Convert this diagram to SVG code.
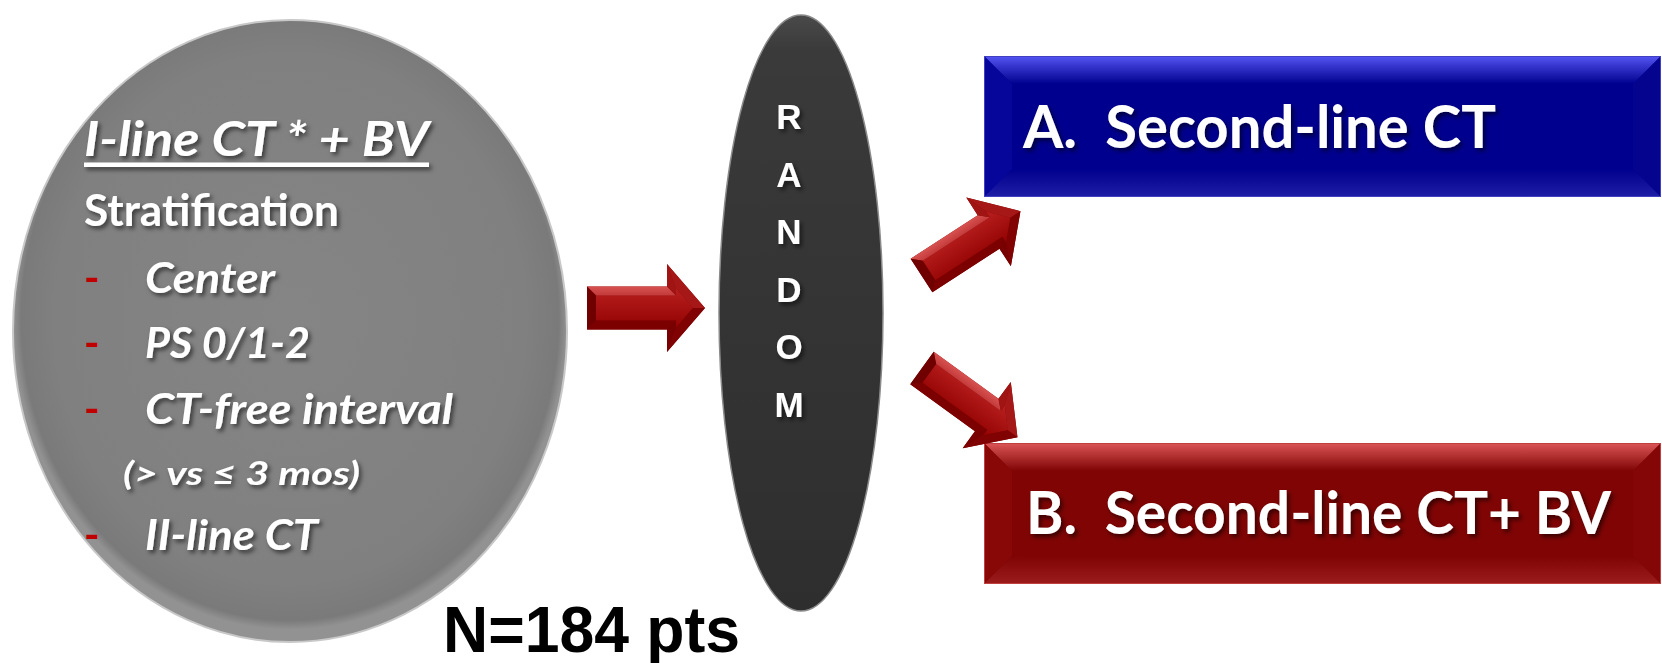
<svg xmlns="http://www.w3.org/2000/svg" width="1662" height="663" viewBox="0 0 1662 663">
  <style>
    .hum { font-family: Lato, "Open Sans", "Liberation Sans", sans-serif; font-weight: 700; fill: #ffffff; }
    .it { font-style: italic; }
    .dash { font-family: Lato, "Liberation Sans", sans-serif; font-weight: 700; fill: #c00000; font-size: 42px; }
    .letter { font-family: "Liberation Sans", Arial, sans-serif; font-weight: 700; font-size: 35px; fill: #ffffff; text-anchor: middle; }
    .count { font-family: "Liberation Sans", Arial, sans-serif; font-weight: 700; font-size: 64px; fill: #000000; }
    .box-label { font-size: 59px; }
  </style>
  <defs>
    <filter id="shadow" x="-10%" y="-30%" width="130%" height="170%">
      <feDropShadow dx="2.5" dy="3" stdDeviation="2" flood-color="#000000" flood-opacity="0.55"/>
    </filter>
    <radialGradient id="grayFill" cx="50%" cy="48%" r="50%">
      <stop offset="0" stop-color="#858585"/>
      <stop offset="0.85" stop-color="#808080"/>
      <stop offset="0.97" stop-color="#7a7a7a"/>
      <stop offset="1" stop-color="#929292"/>
    </radialGradient>
    <linearGradient id="darkFill" x1="0" y1="0" x2="0" y2="1">
      <stop offset="0" stop-color="#4a4a4a"/>
      <stop offset="0.06" stop-color="#3a3a3a"/>
      <stop offset="0.5" stop-color="#343434"/>
      <stop offset="1" stop-color="#2e2e2e"/>
    </linearGradient>
    <linearGradient id="arrowFace" x1="0" y1="0" x2="0" y2="1">
      <stop offset="0" stop-color="#b8201f"/>
      <stop offset="1" stop-color="#930202"/>
    </linearGradient>
    <linearGradient id="arrowTop" x1="0" y1="0" x2="0" y2="1">
      <stop offset="0" stop-color="#d85252"/>
      <stop offset="1" stop-color="#c33a3a"/>
    </linearGradient>
    <linearGradient id="blueTop" x1="0" y1="0" x2="0" y2="1">
      <stop offset="0" stop-color="#5454f2"/>
      <stop offset="1" stop-color="#00008e"/>
    </linearGradient>
    <linearGradient id="blueBottom" x1="0" y1="0" x2="0" y2="1">
      <stop offset="0" stop-color="#00008e"/>
      <stop offset="1" stop-color="#1e1ea6"/>
    </linearGradient>
    <linearGradient id="redTop" x1="0" y1="0" x2="0" y2="1">
      <stop offset="0" stop-color="#dc5656"/>
      <stop offset="1" stop-color="#800404"/>
    </linearGradient>
    <linearGradient id="redBottom" x1="0" y1="0" x2="0" y2="1">
      <stop offset="0" stop-color="#800404"/>
      <stop offset="1" stop-color="#9c1c1c"/>
    </linearGradient>
    <!-- bevelled block arrow, pointing along +x, tail centred on the origin -->
    <g id="arrow">
      <polygon points="0,-21.5 80,-21.5 80,-44 118,0 80,44 80,21.5 0,21.5" fill="#8a0606"/>
      <polygon points="9,-12.5 89,-12.5 89,-19.8 106,0 89,19.8 89,12.5 9,12.5" fill="url(#arrowFace)"/>
      <polygon points="0,-21.5 80,-21.5 89,-12.5 9,-12.5" fill="url(#arrowTop)"/>
      <polygon points="0,21.5 80,21.5 89,12.5 9,12.5" fill="#7c0000"/>
      <polygon points="0,-21.5 9,-12.5 9,12.5 0,21.5" fill="#700000"/>
      <polygon points="80,-21.5 80,-44 89,-19.8 89,-12.5" fill="#a01414"/>
      <polygon points="80,21.5 80,44 89,19.8 89,12.5" fill="#780000"/>
      <polygon points="80,-44 118,0 106,0 89,-19.8" fill="#a61818"/>
      <polygon points="80,44 118,0 106,0 89,19.8" fill="#800202"/>
    </g>
  </defs>

  <rect width="1662" height="663" fill="#ffffff"/>

  <!-- enrolment / stratification disc -->
  <g id="node-stratification">
    <ellipse cx="290" cy="331" rx="277" ry="311" fill="url(#grayFill)" stroke="#c8c8c8" stroke-width="2"/>
    <g filter="url(#shadow)">
      <text class="hum it" x="84" y="156" font-size="47" textLength="345" lengthAdjust="spacingAndGlyphs">I-line CT * + BV</text>
      <rect x="84" y="162.5" width="345" height="4.5" fill="#ffffff"/>
      <text class="hum" x="84" y="226" font-size="43" textLength="255" lengthAdjust="spacingAndGlyphs">Stratification</text>
      <text class="hum it" x="145" y="293" font-size="42" textLength="130" lengthAdjust="spacingAndGlyphs">Center</text>
      <text class="hum it" x="145" y="358" font-size="42" textLength="165" lengthAdjust="spacingAndGlyphs">PS 0/1-2</text>
      <text class="hum it" x="145" y="424" font-size="42" textLength="308" lengthAdjust="spacingAndGlyphs">CT-free interval</text>
      <text class="hum it" x="123" y="485" font-size="33" textLength="237" lengthAdjust="spacingAndGlyphs">(&gt; vs ≤ 3 mos)</text>
      <text class="hum it" x="145" y="550" font-size="42" textLength="173" lengthAdjust="spacingAndGlyphs">II-line CT</text>
    </g>
    <text class="dash" x="84" y="293">-</text>
    <text class="dash" x="84" y="358">-</text>
    <text class="dash" x="84" y="424">-</text>
    <text class="dash" x="84" y="550">-</text>
  </g>

  <!-- randomisation -->
  <g id="node-random">
    <ellipse cx="801" cy="313" rx="82" ry="298" fill="url(#darkFill)" stroke="#8a8a8a" stroke-width="1.5"/>
    <g filter="url(#shadow)">
      <text class="letter" x="789" y="129">R</text>
      <text class="letter" x="789" y="187">A</text>
      <text class="letter" x="789" y="244">N</text>
      <text class="letter" x="789" y="302">D</text>
      <text class="letter" x="789" y="359">O</text>
      <text class="letter" x="789" y="417">M</text>
    </g>
  </g>

  <!-- arm A -->
  <g id="node-arm-a">
    <rect x="984" y="56" width="677" height="141" fill="#00008e"/>
    <polygon points="984,56 1661,56 1633,84 1012,84" fill="url(#blueTop)"/>
    <polygon points="984,56 1012,84 1012,169 984,197" fill="#06069a"/>
    <polygon points="1661,56 1633,84 1633,169 1661,197" fill="#04048f"/>
    <polygon points="984,197 1012,169 1633,169 1661,197" fill="url(#blueBottom)"/>
    <rect x="984.5" y="56.5" width="676" height="140" fill="none" stroke="#4040c0" stroke-width="1"/>
    <text class="hum box-label" x="1023" y="148" textLength="473" lengthAdjust="spacingAndGlyphs" filter="url(#shadow)" xml:space="preserve">A.  Second-line CT</text>
  </g>

  <!-- arm B -->
  <g id="node-arm-b">
    <rect x="984" y="443" width="677" height="141" fill="#800404"/>
    <polygon points="984,443 1661,443 1633,471 1012,471" fill="url(#redTop)"/>
    <polygon points="984,443 1012,471 1012,556 984,584" fill="#880808"/>
    <polygon points="1661,443 1633,471 1633,556 1661,584" fill="#840606"/>
    <polygon points="984,584 1012,556 1633,556 1661,584" fill="url(#redBottom)"/>
    <rect x="984.5" y="443.5" width="676" height="140" fill="none" stroke="#c04040" stroke-width="1"/>
    <text class="hum box-label" x="1026" y="534" textLength="585" lengthAdjust="spacingAndGlyphs" filter="url(#shadow)" xml:space="preserve">B.  Second-line CT+ BV</text>
  </g>

  <!-- sample size -->
  <g id="label-count">
    <text class="count" x="443" y="652" textLength="297" lengthAdjust="spacingAndGlyphs">N=184 pts</text>
  </g>

  <!-- connectors -->
  <g id="connectors">
    <use href="#arrow" transform="translate(587 308)"/>
    <use href="#arrow" transform="translate(921.5 275.5) rotate(-33) scale(1 0.93)"/>
    <use href="#arrow" transform="translate(922 368) rotate(36) scale(1 0.93)"/>
  </g>
</svg>
